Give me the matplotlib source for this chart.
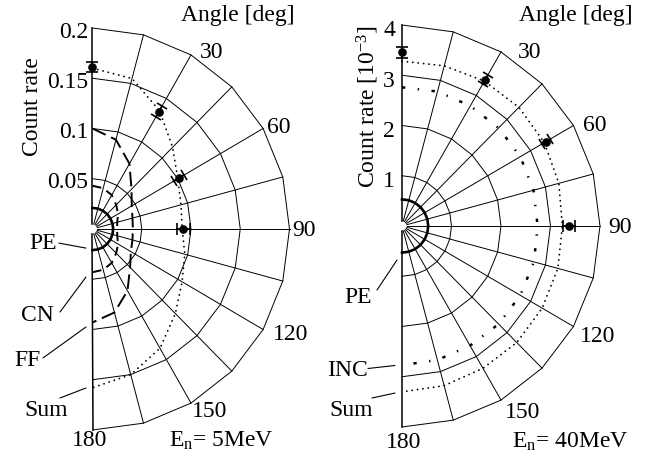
import numpy as np
import matplotlib
matplotlib.use("Agg")
import matplotlib.pyplot as plt
from matplotlib.markers import MarkerStyle
from matplotlib.transforms import Affine2D, offset_copy

plt.rcParams['font.family'] = ['Liberation Serif', 'DejaVu Serif']
plt.rcParams['mathtext.fontset'] = 'custom'
plt.rcParams['mathtext.rm'] = 'Liberation Serif'
plt.rcParams['mathtext.it'] = 'Liberation Serif:italic'
plt.rcParams['lines.scale_dashes'] = False

# ---- angular grid (deg, measured from the beam axis) ----
angles = [0, 15, 30, 45, 60, 75, 90, 105, 120, 135, 150, 165, 180]
angle_labels = [30, 60, 90, 120, 150, 180]

# ---- En = 5 MeV ----
ticks_5 = [0.05, 0.1, 0.15, 0.2]
ticklabels_5 = ['0.05', '0.1', '0.15', '0.2']
pe_5 = [0.021, 0.021, 0.021, 0.021, 0.021, 0.021, 0.021, 0.021, 0.021, 0.021, 0.021, 0.021, 0.021]
cn_5 = [0.043, 0.042, 0.039, 0.034, 0.030, 0.026, 0.025, 0.026, 0.030, 0.034, 0.039, 0.042, 0.043]
ff_5 = [0.100, 0.092, 0.075, 0.056, 0.046, 0.042, 0.041, 0.042, 0.045, 0.054, 0.071, 0.086, 0.093]
sum_5 = [0.160, 0.155, 0.136, 0.115, 0.100, 0.093, 0.091, 0.097, 0.105, 0.119, 0.137, 0.150, 0.158]
meas_angle_5 = [0, 30, 60, 90]
meas_rate_5 = [0.161, 0.135, 0.101, 0.092]
meas_err_5 = [0.005, 0.006, 0.006, 0.0065]

# ---- En = 40 MeV (units of 1e-3) ----
ticks_40 = [1, 2, 3, 4]
ticklabels_40 = ['1', '2', '3', '4']
pe_40 = [0.53, 0.53, 0.53, 0.53, 0.53, 0.53, 0.53, 0.53, 0.53, 0.53, 0.53, 0.53, 0.53]
inc_40 = [2.76, 2.77, 2.76, 2.76, 2.76, 2.75, 2.74, 2.76, 2.76, 2.76, 2.75, 2.76, 2.77]
sum_40 = [3.28, 3.30, 3.33, 3.34, 3.32, 3.28, 3.24, 3.26, 3.27, 3.28, 3.27, 3.29, 3.30]
meas_angle_40 = [0, 30, 60, 90]
meas_rate_40 = [3.46, 3.36, 3.36, 3.37]
meas_err_40 = [0.11, 0.10, 0.10, 0.12]

FS = 17
GRID_LW = 0.7


def xy(r, deg):
    t = np.radians(np.asarray(deg, dtype=float))
    r = np.asarray(r, dtype=float)
    return r * np.sin(t), r * np.cos(t)


def draw_panel(ax, rings, rmax, r_in, ticklabels, tick_off, label_off):
    # polygonal rings
    for rr in rings:
        x, y = xy(np.full(len(angles), rr), angles)
        ax.plot(x, y, color='k', lw=GRID_LW, zorder=1)
    # radial spokes
    for a in angles:
        x, y = xy([r_in, rmax], [a, a])
        lw = 1.1 if a in (0, 180) else GRID_LW
        ax.plot(x, y, color='k', lw=lw, zorder=1)
    # radial tick labels
    for rr, lab in zip(rings, ticklabels):
        ax.annotate(lab, xy=(0, rr), xytext=tick_off, textcoords='offset pixels',
                    ha='right', va='baseline', fontsize=FS)
    # angle labels at the outer ring
    for a, off in zip(angle_labels, label_off):
        x, y = xy(rmax, a)
        ha = 'center' if a == 180 else 'left'
        ax.annotate(str(a), xy=(x, y), xytext=off, textcoords='offset pixels',
                    ha=ha, va='baseline', fontsize=FS)


def draw_points(ax, ang, rate, err, cap):
    for a, r, e in zip(ang, rate, err):
        x, y = xy([r - e, r + e], [a, a])
        ax.plot(x, y, color='k', lw=1.3, zorder=4)
        cap_marker = MarkerStyle('_', transform=Affine2D().rotate_deg(-a))
        ax.plot(x, y, ls='none', marker=cap_marker, ms=cap, mew=1.2, color='k', zorder=4)
        px, py = xy(r, a)
        ax.plot([px], [py], 'o', ms=5.2, color='k', zorder=5)


def curve_label(ax, text, value180, end_off, start_rel, text_off):
    pt = (0.0, -value180)
    tr_end = offset_copy(ax.transData, fig=ax.figure, x=end_off[0], y=end_off[1], units='dots')
    ax.annotate('', xy=pt, xycoords=tr_end, xytext=start_rel, textcoords='offset pixels',
                arrowprops=dict(arrowstyle='-', lw=0.8, color='k', shrinkA=0, shrinkB=0))
    ax.annotate(text, xy=pt, xytext=text_off, textcoords='offset pixels',
                ha='center', va='center', fontsize=FS)


fig = plt.figure(figsize=(6.47, 4.59), dpi=100)
W, H = 647.0, 459.0

# ---------- left panel: 5 MeV ----------
axL = fig.add_axes([0, 0, 323 / W, 1])
axL.set_xlim(-92.5 / 985, 230.5 / 985)
axL.set_ylim(-230 / 1005, 229 / 1005)
axL.axis('off')

draw_panel(axL, ticks_5, 0.2, 0.005, ticklabels_5, (-4, -9.5),
           [(9, -3), (4, -4.5), (2.5, -6.5), (10, -11), (1, -13.5), (-2.5, -15.5)])

xp, yp = xy(pe_5, angles)
axL.plot(xp, yp, color='k', lw=1.9, zorder=3)
xc, yc = xy(cn_5, angles)
axL.plot(xc, yc, color='k', lw=1.4, ls=(0, (6.5, 4.3)), zorder=3)
xf, yf = xy(ff_5, angles)
axL.plot(xf, yf, color='k', lw=1.4, ls=(0, (10.5, 4.3)), zorder=3)
xs, ys = xy(sum_5, angles)
axL.plot(xs, ys, color='k', lw=1.3, ls=(0, (0.1, 3.8)), dash_capstyle='round', zorder=3)
draw_points(axL, meas_angle_5, meas_rate_5, meas_err_5, 9)

curve_label(axL, 'PE', pe_5[-1], (-6.5, 2), (-27, 5), (-49, 7))
curve_label(axL, 'CN', cn_5[-1], (-6.5, -4.8), (-26, -35), (-55, -43.3))
curve_label(axL, 'FF', ff_5[-1], (-6.5, -4.5), (-43, -31), (-65, -38))
curve_label(axL, 'Sum', sum_5[-1], (-6.5, -0.2), (-26, -10), (-46.5, -22.7))

fig.text(32 / W, 1 - 107 / H, 'Count rate', rotation=90, ha='center', va='center', fontsize=FS)
fig.text(238 / W, 1 - 15 / H, 'Angle [deg]', ha='center', va='center', fontsize=FS)
fig.text(221 / W, 1 - 441 / H, r'E$_{\mathrm{n}}$= 5MeV', ha='center', va='center', fontsize=FS)

# ---------- right panel: 40 MeV ----------
axR = fig.add_axes([323 / W, 0, 324 / W, 1])
axR.set_xlim((323 - 402) / 49.5, (647 - 402) / 49.5)
axR.set_ylim(-(459 - 226) / 50.25, 226 / 50.25)
axR.axis('off')

draw_panel(axR, ticks_40, 4, 0.1, ticklabels_40, (-7, -11.5),
           [(17, -6.5), (9.5, -6), (8, -7.5), (6.5, -16), (4, -17.5), (1.5, -21)])

xp, yp = xy(pe_40, angles)
axR.plot(xp, yp, color='k', lw=1.9, zorder=3)
xi, yi = xy(inc_40, angles)
axR.plot(xi, yi, color='k', lw=1.8, ls=(0, (2.4, 9.0, 1.0, 9.0)), zorder=3)
xs, ys = xy(sum_40, angles)
axR.plot(xs, ys, color='k', lw=1.3, ls=(0, (0.1, 3.8)), dash_capstyle='round', zorder=3)
draw_points(axR, meas_angle_40, meas_rate_40, meas_err_40, 9)

curve_label(axR, 'PE', pe_40[-1], (-5, -7.4), (-20, -30), (-43.5, -45))
curve_label(axR, 'INC', inc_40[-1], (-7, -0.3), (-27, -3), (-54.5, -5.3))
curve_label(axR, 'Sum', sum_40[-1], (-7, -1.2), (-23, -5), (-51, -18.7))

fig.text(368 / W, 1 - 107 / H, r'Count rate [10$^{-3}$]', rotation=90, ha='center', va='center', fontsize=FS)
fig.text(576 / W, 1 - 15 / H, 'Angle [deg]', ha='center', va='center', fontsize=FS)
fig.text(570 / W, 1 - 442 / H, r'E$_{\mathrm{n}}$= 40MeV', ha='center', va='center', fontsize=FS)

fig.savefig('out.png', dpi=100)
